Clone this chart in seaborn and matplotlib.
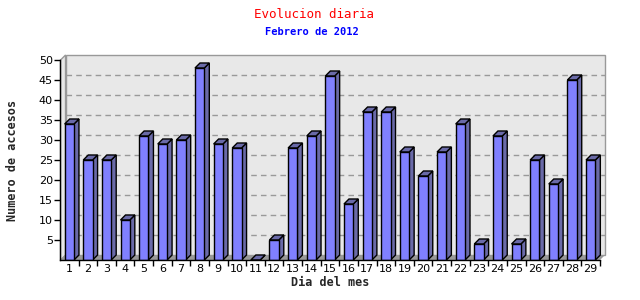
import matplotlib
matplotlib.use("Agg")
import matplotlib.pyplot as plt
import seaborn as sns
import pandas as pd
from matplotlib.patches import Polygon, Rectangle

days = [str(d) for d in range(1, 30)]
accesos = [34, 25, 25, 10, 31, 29, 30, 48, 29, 28, 0, 5, 28, 31, 46, 14,
           37, 37, 27, 21, 27, 34, 4, 31, 4, 25, 19, 45, 25]
yticks = list(range(5, 51, 5))
title = "Evolucion diaria"
subtitle = "Febrero de 2012"
xlabel = "Dia del mes"
ylabel = "Numero de accesos"

sns.set_theme(style="white")
plt.rcParams['font.family'] = ['DejaVu Sans']

W, H = 640, 300
fig = plt.figure(figsize=(6.4, 3.0), dpi=100)
fig.patch.set_facecolor("white")
ax = fig.add_axes([60 / W, 40 / H, 540 / W, 200 / H])
ax.set_facecolor("none")

df = pd.DataFrame({"dia": days, "accesos": accesos})
XL = (-0.47, 28.5)
YL = (0, 50)
ax.set_xlim(*XL)
ax.set_ylim(*YL)

# depth offset converted into data units
dpx = 5.0
dx = dpx * (XL[1] - XL[0]) / 540.0
dy = dpx * (YL[1] - YL[0]) / 200.0

wall = "#e8e8e8"
border = "#999999"
# back wall
ax.add_patch(Rectangle((XL[0] + dx, dy), XL[1] - XL[0], YL[1], facecolor=wall,
                       edgecolor=border, lw=1, clip_on=False, zorder=0))
# left side wall
ax.add_patch(Polygon([(XL[0], 0), (XL[0] + dx, dy), (XL[0] + dx, YL[1] + dy), (XL[0], YL[1])],
                     closed=True, facecolor=wall, edgecolor=border, lw=1, clip_on=False, zorder=0.5))
# floor
ax.add_patch(Polygon([(XL[0], 0), (XL[0] + dx, dy), (XL[1] + dx, dy), (XL[1], 0)],
                     closed=True, facecolor="#999999", edgecolor="none", clip_on=False, zorder=0.6))
# dashed grid on back wall
for v in yticks[:-1]:
    ax.plot([XL[0] + dx, XL[1] + dx], [v + dy, v + dy], color="#999999", lw=1,
            ls=(0, (4, 3)), clip_on=False, zorder=0.7)

sns.barplot(data=df, x="dia", y="accesos", color="#8080ff", saturation=1,
            edgecolor="black", linewidth=1, width=0.5, ax=ax, zorder=3)

side = "#6a6aa8"
for p in list(ax.patches):
    if isinstance(p, Rectangle) and p.get_zorder() == 3:
        xl = p.get_x()
        xr = xl + p.get_width()
        h = p.get_height()
        ax.add_patch(Polygon([(xr, 0), (xr + dx, dy), (xr + dx, h + dy), (xr, h)], closed=True,
                             facecolor=side, edgecolor="black", lw=1, clip_on=False, zorder=2.9))
        ax.add_patch(Polygon([(xl, h), (xl + dx, h + dy), (xr + dx, h + dy), (xr, h)], closed=True,
                             facecolor=side, edgecolor="black", lw=1, clip_on=False, zorder=2.9))

for s in ["top", "right"]:
    ax.spines[s].set_visible(False)
for s in ["left", "bottom"]:
    ax.spines[s].set_color("black")
    ax.spines[s].set_linewidth(1)
    ax.spines[s].set_zorder(5)

ax.set_yticks(yticks)
ax.set_yticklabels([str(v) for v in yticks], fontsize=8, color="black")
ax.tick_params(axis="y", direction="out", length=4, width=1, color="black", pad=1, left=True)

ax.set_xticks(range(len(days)))
ax.set_xticklabels(days, fontsize=8, color="black")
ax.tick_params(axis="x", which="major", length=0, pad=3)
ax.set_xticks([i + 0.5 for i in range(len(days))], minor=True)
ax.tick_params(axis="x", which="minor", direction="out", length=4, width=1, color="black", bottom=True)

mono = ["DejaVu Sans Mono"]
ax.set_xlabel(xlabel, fontsize=8.5, fontweight="bold", family=mono, labelpad=1)
ax.set_ylabel(ylabel, fontsize=8.5, fontweight="bold", family=mono, labelpad=14)
fig.text(314 / W, 1 - 14 / H, title, color="red", fontsize=9, family=mono,
         ha="center", va="center")
fig.text(312 / W, 1 - 32 / H, subtitle, color="blue", fontsize=7.5, family=mono,
         fontweight="bold", ha="center", va="center")

fig.savefig("out.png", dpi=100, facecolor="white")
